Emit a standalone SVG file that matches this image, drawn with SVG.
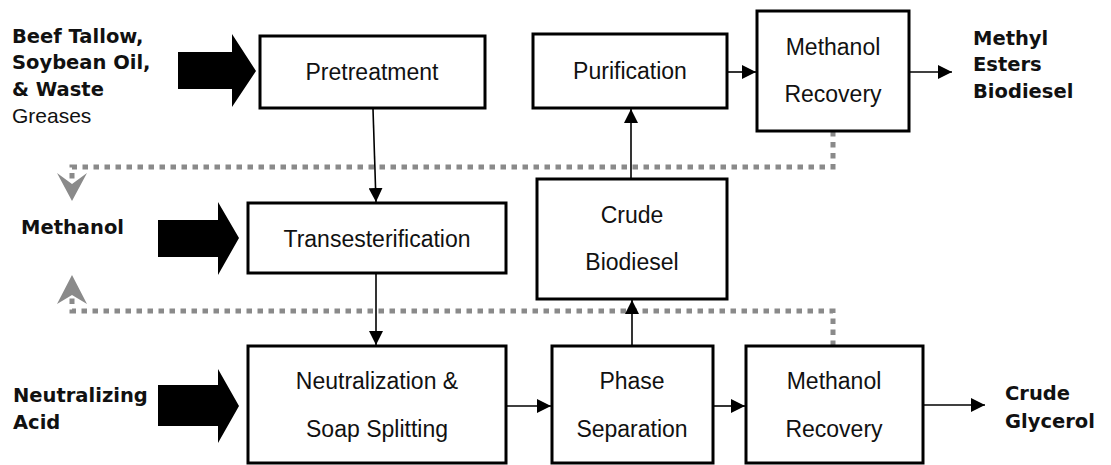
<svg xmlns="http://www.w3.org/2000/svg" width="1111" height="465" viewBox="0 0 1111 465">
<style>
.box{fill:#fff;stroke:#000;stroke-width:3}
.t{font-family:"Liberation Sans",Arial,sans-serif;font-size:23px;fill:#111;text-anchor:middle}
.lb{font-family:"DejaVu Sans",Verdana,sans-serif;font-weight:bold;font-size:19.5px;fill:#111}
.lr{font-family:"Liberation Sans",Arial,sans-serif;font-size:21px;fill:#111}
.ln{fill:none;stroke:#000;stroke-width:1.6}
.dot{fill:none;stroke:#8a8a8a;stroke-width:5;stroke-dasharray:5.5 5.5}
.big{fill:#000}
.gh{fill:#8a8a8a}
</style>
<defs>
<marker id="ah" markerUnits="userSpaceOnUse" markerWidth="15" markerHeight="14" refX="14" refY="7" orient="auto">
<path d="M0,0 L14,7 L0,14 z" fill="#000"/>
</marker>
</defs>
<g id="connectors">
<path class="dot" d="M833,131 V167 H72 V186"/>
<path class="dot" d="M833,346 V311 H72 V296"/>
<polygon class="gh" points="72,201 87,173 72,184 57,173"/>
<polygon class="gh" points="72,275 87,304 72,295 57,304"/>
<polygon class="big" points="178,52 232,52 232,34 256,71 232,107 232,89 178,89"/>
<polygon class="big" points="158,220 218,220 218,202 239,238 218,275 218,257 158,257"/>
<polygon class="big" points="158,385 218,385 218,369 239,406 218,443 218,426 158,426"/>
<line class="ln" x1="373" y1="109" x2="376" y2="202" marker-end="url(#ah)"/>
<line class="ln" x1="376" y1="274" x2="376" y2="345" marker-end="url(#ah)"/>
<line class="ln" x1="507" y1="406" x2="551" y2="406" marker-end="url(#ah)"/>
<line class="ln" x1="714" y1="406" x2="745" y2="406" marker-end="url(#ah)"/>
<line class="ln" x1="924" y1="405" x2="985" y2="405" marker-end="url(#ah)"/>
<line class="ln" x1="632" y1="345" x2="632" y2="300" marker-end="url(#ah)"/>
<line class="ln" x1="631" y1="178" x2="631" y2="109" marker-end="url(#ah)"/>
<line class="ln" x1="728" y1="72" x2="756" y2="72" marker-end="url(#ah)"/>
<line class="ln" x1="910" y1="72" x2="952" y2="72" marker-end="url(#ah)"/>
</g>
<g id="label-feed">
<text class="lb" x="12" y="43">Beef Tallow,</text>
<text class="lb" x="12" y="69">Soybean Oil,</text>
<text class="lb" x="12" y="96">&amp; Waste</text>
<text class="lr" x="12" y="123">Greases</text>
</g>
<g id="label-methanol"><text class="lb" x="21" y="234">Methanol</text></g>
<g id="label-acid">
<text class="lb" x="13" y="402">Neutralizing</text>
<text class="lb" x="13" y="429">Acid</text>
</g>
<g id="label-methyl">
<text class="lb" x="973" y="45">Methyl</text>
<text class="lb" x="973" y="71">Esters</text>
<text class="lb" x="973" y="98">Biodiesel</text>
</g>
<g id="label-glycerol">
<text class="lb" x="1005" y="400">Crude</text>
<text class="lb" x="1005" y="428">Glycerol</text>
</g>
<g id="pretreatment">
<rect class="box" x="260" y="36" width="225" height="72"/>
<text class="t" x="372" y="80">Pretreatment</text>
</g>
<g id="transesterification">
<rect class="box" x="248" y="203" width="258" height="70"/>
<text class="t" x="377" y="247">Transesterification</text>
</g>
<g id="neutralization">
<rect class="box" x="248" y="346" width="258" height="117"/>
<text class="t" x="377" y="389">Neutralization &amp;</text>
<text class="t" x="377" y="437">Soap Splitting</text>
</g>
<g id="phase-separation">
<rect class="box" x="552" y="346" width="161" height="117"/>
<text class="t" x="632" y="389">Phase</text>
<text class="t" x="632" y="437">Separation</text>
</g>
<g id="methanol-recovery-bottom">
<rect class="box" x="746" y="346" width="177" height="117"/>
<text class="t" x="834" y="389">Methanol</text>
<text class="t" x="834" y="437">Recovery</text>
</g>
<g id="crude-biodiesel">
<rect class="box" x="537" y="179" width="190" height="120"/>
<text class="t" x="632" y="223">Crude</text>
<text class="t" x="632" y="270">Biodiesel</text>
</g>
<g id="purification">
<rect class="box" x="533" y="34" width="194" height="74"/>
<text class="t" x="630" y="79">Purification</text>
</g>
<g id="methanol-recovery-top">
<rect class="box" x="757" y="11" width="152" height="120"/>
<text class="t" x="833" y="55">Methanol</text>
<text class="t" x="833" y="102">Recovery</text>
</g>
</svg>
